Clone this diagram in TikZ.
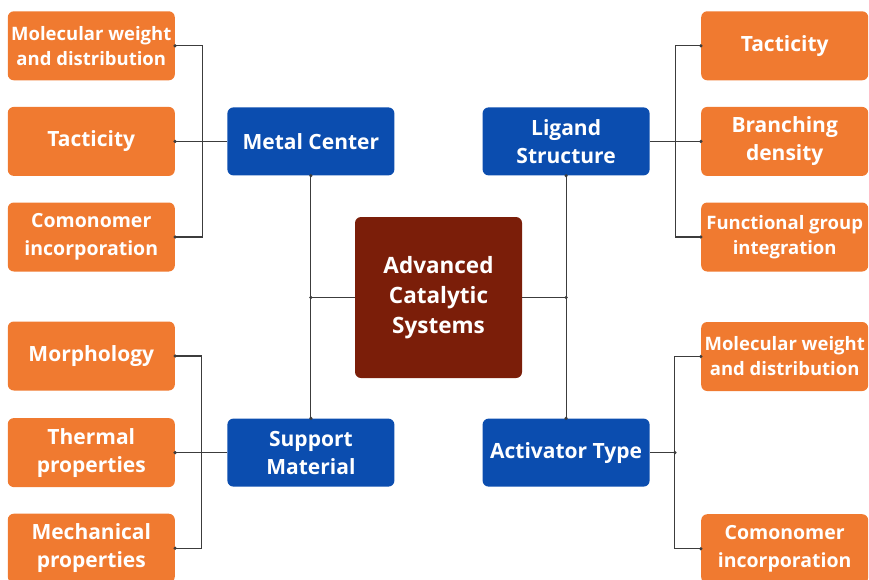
\documentclass[tikz,border=0pt]{standalone}
\usepackage{fontspec}
\setmainfont{Open Sans}
\usetikzlibrary{positioning,calc}
\definecolor{boxOrange}{HTML}{F07A30}
\definecolor{boxBlue}{HTML}{0B4DAF}
\definecolor{boxMaroon}{HTML}{7B1E09}
\definecolor{linkGray}{HTML}{3C3C3C}

\begin{document}
\begin{tikzpicture}[semithick]

\tikzset{
	propertyBox/.style={
		fill=boxOrange,
		text=white,
		rounded corners=6pt,
		minimum width=167pt,
		minimum height=69pt,
		inner sep=0pt,
		align=center,
		font=\fontsize{21}{28}\selectfont\bfseries
	}
}

\tikzset{
	longText/.style={
		font=\fontsize{18.5}{25}\selectfont\bfseries
	}
}

\tikzset{
	midText/.style={
		font=\fontsize{19.5}{28}\selectfont\bfseries
	}
}

\tikzset{
	factorBox/.style={
		propertyBox,
		fill=boxBlue,
		minimum height=68pt
	}
}

\tikzset{
	coreBox/.style={
		propertyBox,
		fill=boxMaroon,
		minimum height=161pt,
		font=\fontsize{22.5}{30}\selectfont\bfseries
	}
}

\tikzset{
	link/.style={
		draw=linkGray,
		line width=1.1pt
	}
}

\useasboundingbox (0,0) rectangle (869pt,-579pt);

\node[coreBox](ACS) at (438.5pt,-297.5pt) {Advanced\\Catalytic\\Systems};

\node[factorBox](MC) [above left=41pt and -40pt of ACS] {Metal Center};
\node[factorBox](LS) [above right=41pt and -40pt of ACS] {Ligand\\Structure};
\node[factorBox](SM) [below left=40pt and -40pt of ACS] {Support\\Material};
\node[factorBox](AT) [below right=40pt and -40pt of ACS] {Activator Type};

\node[propertyBox](TacL) [left=52pt of MC] {Tacticity};
\node[propertyBox,longText](MolL) [above=26pt of TacL] {Molecular weight\\and distribution};
\node[propertyBox,midText](ComL) [below=26pt of TacL] {Comonomer\\incorporation};

\node[propertyBox](TheL) [left=52pt of SM] {Thermal\\properties};
\node[propertyBox](MorL) [above=27pt of TheL] {Morphology};
\node[propertyBox](MecL) [below=26pt of TheL] {Mechanical\\properties};

\node[propertyBox](BraR) [right=51pt of LS] {Branching\\density};
\node[propertyBox](TacR) [above=26pt of BraR] {Tacticity};
\node[propertyBox,longText](FunR) [below=26pt of BraR] {Functional group\\integration};

\node[propertyBox,longText](MolR) [above right=27pt and 51pt of AT] {Molecular weight\\and distribution};
\node[propertyBox,midText](ComR) [below right=27pt and 51pt of AT] {Comonomer\\incorporation};

% junctions
\coordinate (jL) at (MC.south |- ACS.west);
\coordinate (jR) at (LS.south |- ACS.east);
\coordinate (jMC) at ($(MC.west)+(-25pt,0)$);
\coordinate (jSM) at ($(SM.west)+(-26pt,0)$);
\coordinate (jLS) at ($(LS.east)+(26pt,0)$);
\coordinate (jAT) at ($(AT.east)+(25pt,0)$);

\draw[link] (MC.south) -- (SM.north);
\draw[link] (LS.south) -- (AT.north);
\draw[link] (ACS.west) -- (jL);
\draw[link] (ACS.east) -- (jR);

\draw[link] (MC.west) -- (jMC);
\draw[link] (MolL.east) -| (jMC);
\draw[link] (TacL.east) -| (jMC);
\draw[link] (ComL.east) -| (jMC);

\draw[link] (SM.west) -- (jSM);
\draw[link] (MorL.east) -| (jSM);
\draw[link] (TheL.east) -| (jSM);
\draw[link] (MecL.east) -| (jSM);

\draw[link] (LS.east) -- (jLS);
\draw[link] (TacR.west) -| (jLS);
\draw[link] (BraR.west) -| (jLS);
\draw[link] (FunR.west) -| (jLS);

\draw[link] (AT.east) -- (jAT);
\draw[link] (MolR.west) -| (jAT);
\draw[link] (ComR.west) -| (jAT);

% end dots
\foreach \p in {MolL.east,TacL.east,ComL.east,MorL.east,TheL.east,MecL.east,
	TacR.west,BraR.west,FunR.west,MolR.west,ComR.west,
	MC.south,SM.north,LS.south,AT.north,jL,jR,jAT}
	\fill[linkGray] (\p) circle (1.8pt);

\end{tikzpicture}
\end{document}
